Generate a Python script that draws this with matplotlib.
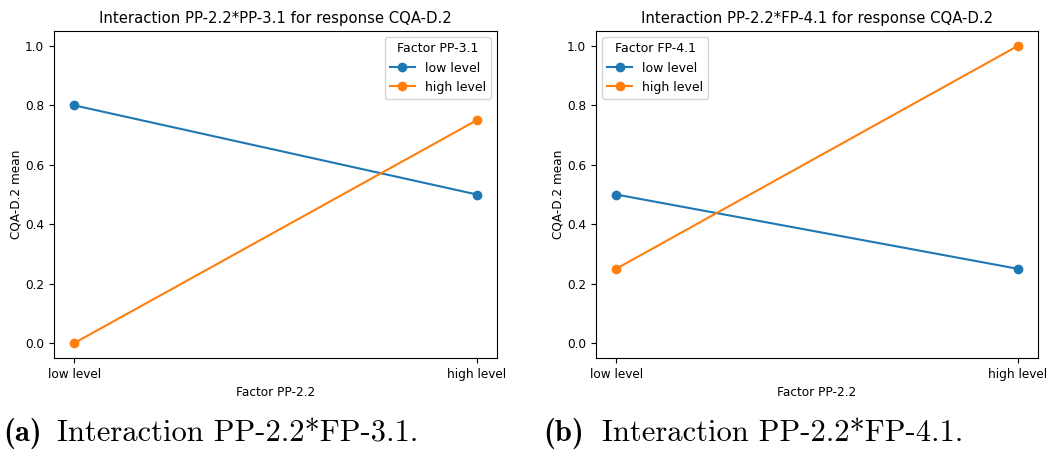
import matplotlib
matplotlib.use("Agg")
import matplotlib.pyplot as plt

# interaction means, x = levels of factor PP-2.2
levels = ["low level", "high level"]

# panel (a): second factor PP-3.1
a_low = [0.8, 0.5]
a_high = [0.0, 0.75]

# panel (b): second factor FP-4.1
b_low = [0.5, 0.25]
b_high = [0.25, 1.0]

W, H = 1047, 450
fig = plt.figure(figsize=(W / 100, H / 100), dpi=100)


def px(l, b, r, t):
    return [l / W, 1 - b / H, (r - l) / W, (b - t) / H]


def interaction(ax, low, high, second, title, legend_loc):
    x = [0, 1]
    ax.plot(x, low, marker="o", color="#1f77b4", lw=1.5, ms=6, label="low level")
    ax.plot(x, high, marker="o", color="#ff7f0e", lw=1.5, ms=6, label="high level")
    ax.set_xticks(x)
    ax.set_xticklabels(levels)
    ax.set_ylim(-0.05, 1.05)
    ax.set_yticks([0.0, 0.2, 0.4, 0.6, 0.8, 1.0])
    ax.tick_params(labelsize=8.7)
    ax.set_xlabel("Factor PP-2.2", fontsize=8.7)
    ax.set_ylabel("CQA-D.2 mean", fontsize=8.7, labelpad=2)
    ax.set_title(title, fontsize=10.7)
    leg = ax.legend(title="Factor " + second, loc=legend_loc, fontsize=9,
                    title_fontsize=9)
    return leg


ax1 = fig.add_axes(px(54, 358, 497, 31))
interaction(ax1, a_low, a_high, "PP-3.1",
            "Interaction PP-2.2*PP-3.1 for response CQA-D.2", "upper right")

ax2 = fig.add_axes(px(596, 358, 1038, 31))
interaction(ax2, b_low, b_high, "FP-4.1",
            "Interaction PP-2.2*FP-4.1 for response CQA-D.2", "upper left")

# sub-figure captions
cap_y = 1 - 441 / H
fig.text(3 / W, cap_y, "(a)", family="cmb10", fontsize=22, va="baseline")
fig.text(57 / W, cap_y, "Interaction PP-2.2*FP-3.1.", family="cmr10",
         fontsize=22, va="baseline")
fig.text(543 / W, cap_y, "(b)", family="cmb10", fontsize=22, va="baseline")
fig.text(602 / W, cap_y, "Interaction PP-2.2*FP-4.1.", family="cmr10",
         fontsize=22, va="baseline")

fig.savefig("out.png", dpi=100)
